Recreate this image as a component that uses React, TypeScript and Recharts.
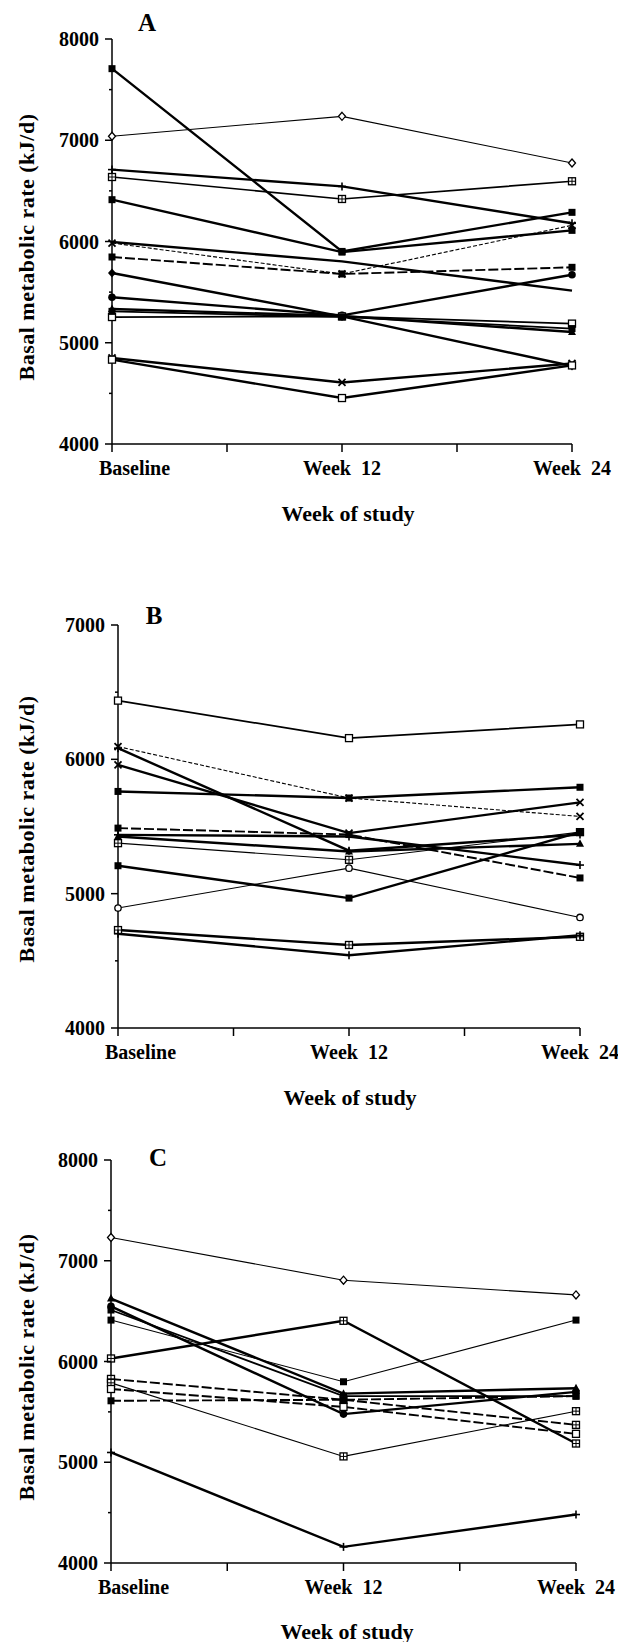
import React from 'react'
import { LineChart, Line, XAxis, YAxis } from 'recharts'

const weeks = [0, 12, 24]
const weekTicks = [0, 6, 12, 18, 24]
const weekLabels: Record<number, string> = { 0: 'Baseline', 12: 'Week  12', 24: 'Week  24' }

// Panel A – one row per subject: baseline, week 12, week 24 (kJ/d)
const bmrA = [
  [7707, 5902, 6288],
  [7039, 7236, 6775],
  [6710, 6544, 6180],
  [6637, 6420, 6595],
  [6413, 5895, 6110],
  [5995, 5804, 5515],
  [5985, 5679, 6160],
  [5847, 5679, 5745],
  [5689, 5260, 4770],
  [5449, 5270, 5672],
  [5333, 5265, 5106],
  [5254, 5260, 5189],
  [5310, 5255, 5140],
  [4850, 4608, 4795],
  [4833, 4454, 4776],
]
const markA = ['fsq', 'odia', 'plus', 'dsq', 'fsq', 'none', 'x', 'fsq', 'fdia', 'fcir', 'tri', 'osq', 'fsq', 'x', 'osq']
const lineA = ['thick', 'thin', 'thick', 'med', 'thick', 'thick', 'dot', 'dash', 'thick', 'thick', 'thick', 'med', 'med', 'thick', 'thick']

// Panel B
const bmrB = [
  [6437, 6158, 6260],
  [6095, 5712, 5575],
  [6083, 5320, 5440],
  [5959, 5451, 5680],
  [5761, 5712, 5792],
  [5488, 5440, 5117],
  [5438, 5426, 5213],
  [5426, 5314, 5371],
  [5376, 5252, 5458],
  [5208, 4967, 5458],
  [4893, 5190, 4823],
  [4729, 4618, 4679],
  [4702, 4542, 4690],
]
const markB = ['osq', 'x', 'plus', 'x', 'fsq', 'fsq', 'plus', 'tri', 'dsq', 'fsq', 'ocir', 'dsq', 'plus']
const lineB = ['med', 'dot', 'thick', 'thick', 'thick', 'dash', 'thick', 'thick', 'thin', 'thick', 'thin', 'thick', 'thick']

// Panel C
const bmrC = [
  [7231, 6807, 6661],
  [6625, 5681, 5735],
  [6547, 5478, 5699],
  [6511, 5656, 5656],
  [6411, 5799, 6411],
  [6030, 6404, 5186],
  [5827, 5620, 5371],
  [5788, 5058, 5507],
  [5727, 5549, 5282],
  [5610, 5620, 5656],
  [5097, 4160, 4481],
]
const markC = ['odia', 'tri', 'fcir', 'fsq', 'fsq', 'dsq', 'dsq', 'dsq', 'osq', 'fsq', 'plus']
const lineC = ['thin', 'thick', 'thick', 'med', 'thin', 'thick', 'dash', 'thin', 'dash', 'dash', 'thick']

const yTicksA = [4000, 4500, 5000, 5500, 6000, 6500, 7000, 7500, 8000]
const yTicksB = [4000, 4500, 5000, 5500, 6000, 6500, 7000]
const yTicksC = yTicksA

const FONT = "'Liberation Serif', 'DejaVu Serif', serif"

const lineStyles: Record<string, { w: number; dash?: string }> = {
  thick: { w: 2.4 },
  med: { w: 1.7 },
  thin: { w: 1.1 },
  dash: { w: 1.9, dash: '10 3' },
  dot: { w: 1.1, dash: '4 2' },
}

function toRows(series: number[][]) {
  return weeks.map((wk, i) => {
    const row: Record<string, number> = { week: wk }
    series.forEach((s, j) => { row['s' + j] = s[i] })
    return row
  })
}

function Marker({ cx, cy, kind }: { cx: number; cy: number; kind: string }) {
  if (cx == null || cy == null) return null
  const r = 3.5
  const k = { stroke: '#000', strokeWidth: 1.3 }
  switch (kind) {
    case 'fsq':
      return <rect x={cx - r} y={cy - r} width={r * 2} height={r * 2} fill="#000" />
    case 'osq':
      return <rect x={cx - r} y={cy - r} width={r * 2} height={r * 2} fill="#fff" {...k} />
    case 'dsq':
      return (
        <g>
          <rect x={cx - r} y={cy - r} width={r * 2} height={r * 2} fill="#fff" {...k} />
          <line x1={cx - r} x2={cx + r} y1={cy} y2={cy} stroke="#000" strokeWidth={1} />
          <line x1={cx} x2={cx} y1={cy - r} y2={cy + r} stroke="#000" strokeWidth={1} />
        </g>
      )
    case 'odia':
      return <polygon points={`${cx},${cy - 4} ${cx + 3.5},${cy} ${cx},${cy + 4} ${cx - 3.5},${cy}`} fill="#fff" {...k} />
    case 'fdia':
      return <polygon points={`${cx},${cy - 4.5} ${cx + 4},${cy} ${cx},${cy + 4.5} ${cx - 4},${cy}`} fill="#000" />
    case 'plus':
      return (
        <g stroke="#000" strokeWidth={1.6}>
          <line x1={cx - 4} x2={cx + 4} y1={cy} y2={cy} />
          <line x1={cx} x2={cx} y1={cy - 4} y2={cy + 4} />
        </g>
      )
    case 'x':
      return (
        <g stroke="#000" strokeWidth={1.8}>
          <line x1={cx - 3.5} x2={cx + 3.5} y1={cy - 3.5} y2={cy + 3.5} />
          <line x1={cx - 3.5} x2={cx + 3.5} y1={cy + 3.5} y2={cy - 3.5} />
        </g>
      )
    case 'tri':
      return <polygon points={`${cx},${cy - 4.5} ${cx + 4},${cy + 3} ${cx - 4},${cy + 3}`} fill="#000" />
    case 'fcir':
      return <circle cx={cx} cy={cy} r={3.8} fill="#000" />
    case 'ocir':
      return <circle cx={cx} cy={cy} r={3.2} fill="#fff" {...k} />
    default:
      return null
  }
}

function YTick(props: any) {
  const { x, y, payload } = props
  const v = payload.value as number
  const major = v % 1000 === 0
  return (
    <g>
      <line x1={x - (major ? 7 : 3)} x2={x} y1={y} y2={y} stroke="#000" strokeWidth={1.5} />
      {major && (
        <text x={x - 13} y={y} textAnchor="end" dominantBaseline="central"
          fontFamily={FONT} fontWeight="bold" fontSize={20} fill="#000">
          {v}
        </text>
      )}
    </g>
  )
}

function XTick(props: any) {
  const { x, y, payload } = props
  const v = payload.value as number
  const label = weekLabels[v]
  // the baseline label sits to the right of the axis, as in the original
  const first = v === 0
  return (
    <g>
      <line x1={x} x2={x} y1={y} y2={y + 8} stroke="#000" strokeWidth={1.5} />
      {label && (
        <text x={first ? x - 13 : x} y={y + 24} textAnchor={first ? 'start' : 'middle'} dominantBaseline="central"
          fontFamily={FONT} fontWeight="bold" fontSize={20} fill="#000" style={{ whiteSpace: 'pre' }}>
          {label}
        </text>
      )}
    </g>
  )
}

interface PanelProps {
  top: number
  height: number
  margin: { top: number; right: number; bottom: number; left: number }
  yWidth: number
  xHeight: number
  domain: [number, number]
  yTicks: number[]
  series: number[][]
  marks: string[]
  styles: string[]
}

function Panel({ top, height, margin, yWidth, xHeight, domain, yTicks, series, marks, styles }: PanelProps) {
  const rows = toRows(series)
  return (
    <div style={{ position: 'absolute', left: 0, top }}>
      <LineChart width={618} height={height} data={rows} margin={margin}>
        <XAxis
          dataKey="week" type="number" domain={[0, 24]} ticks={weekTicks} interval={0}
          height={xHeight} tickLine={false} tickSize={0} tickMargin={0}
          axisLine={{ stroke: '#000', strokeWidth: 1.5 }} tick={<XTick />}
        />
        <YAxis
          type="number" domain={domain} ticks={yTicks} interval={0} allowDataOverflow
          width={yWidth} tickLine={false} tickSize={0} tickMargin={0}
          axisLine={{ stroke: '#000', strokeWidth: 1.5 }} tick={<YTick />}
        />
        {series.map((_, j) => {
          const st = lineStyles[styles[j]]
          const kind = marks[j]
          return (
            <Line
              key={j}
              dataKey={'s' + j}
              type="linear"
              stroke="#000"
              strokeWidth={st.w}
              strokeDasharray={st.dash}
              isAnimationActive={false}
              activeDot={false}
              dot={(p: any) => <Marker key={`${j}-${p.index}`} cx={p.cx} cy={p.cy} kind={kind} />}
            />
          )
        })}
      </LineChart>
    </div>
  )
}

const titleStyle = { fontFamily: FONT, fontWeight: 'bold' as const, fill: '#000' }

export default function App() {
  const yLabel = 'Basal metabolic rate (kJ/d)'
  const xLabel = 'Week of study'
  return (
    <div style={{ position: 'absolute', left: 0, top: 0, width: 618, height: 1642, background: '#fff' }}>
      <Panel top={0} height={480} margin={{ top: 39, right: 46, bottom: 0, left: 0 }}
        yWidth={112} xHeight={36} domain={[4000, 8000]} yTicks={yTicksA}
        series={bmrA} marks={markA} styles={lineA} />
      <Panel top={600} height={480} margin={{ top: 25, right: 38, bottom: 0, left: 0 }}
        yWidth={118} xHeight={52} domain={[4000, 7000]} yTicks={yTicksB}
        series={bmrB} marks={markB} styles={lineB} />
      <Panel top={1130} height={490} margin={{ top: 30, right: 42, bottom: 0, left: 0 }}
        yWidth={111} xHeight={57} domain={[4000, 8000]} yTicks={yTicksC}
        series={bmrC} marks={markC} styles={lineC} />
      <svg width={618} height={1642} style={{ position: 'absolute', left: 0, top: 0, pointerEvents: 'none' }}>
        <text x={147} y={31} textAnchor="middle" fontSize={25} {...titleStyle}>A</text>
        <text x={154} y={624} textAnchor="middle" fontSize={25} {...titleStyle}>B</text>
        <text x={158} y={1166} textAnchor="middle" fontSize={25} {...titleStyle}>C</text>
        <text x={348} y={513} textAnchor="middle" dominantBaseline="central" fontSize={22} {...titleStyle}>{xLabel}</text>
        <text x={350} y={1097} textAnchor="middle" dominantBaseline="central" fontSize={22} {...titleStyle}>{xLabel}</text>
        <text x={347} y={1631} textAnchor="middle" dominantBaseline="central" fontSize={22} {...titleStyle}>{xLabel}</text>
        <text x={26} y={247} textAnchor="middle" dominantBaseline="central" fontSize={22} letterSpacing={0.5}
          transform="rotate(-90 26 247)" {...titleStyle}>{yLabel}</text>
        <text x={26} y={829} textAnchor="middle" dominantBaseline="central" fontSize={22} letterSpacing={0.5}
          transform="rotate(-90 26 829)" {...titleStyle}>{yLabel}</text>
        <text x={26} y={1367} textAnchor="middle" dominantBaseline="central" fontSize={22} letterSpacing={0.5}
          transform="rotate(-90 26 1367)" {...titleStyle}>{yLabel}</text>
      </svg>
    </div>
  )
}
